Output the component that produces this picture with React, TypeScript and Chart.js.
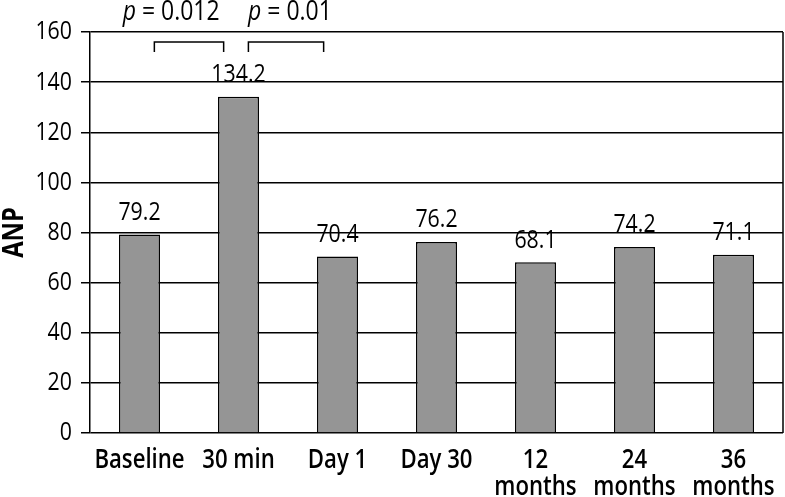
import React, { useEffect, useRef } from "react";
import { Chart, registerables } from "chart.js";

Chart.register(...registerables);

const categories: string[][] = [
  ["Baseline"],
  ["30 min"],
  ["Day 1"],
  ["Day 30"],
  ["12", "months"],
  ["24", "months"],
  ["36", "months"],
];
const anpValues = [79.2, 134.2, 70.4, 76.2, 68.1, 74.2, 71.1];
const valueLabels = ["79.2", "134.2", "70.4", "76.2", "68.1", "74.2", "71.1"];

const yMin = 0;
const yMax = 160;
const yStep = 20;
const yTitle = "ANP";

// significance brackets (category units / value units)
const bracketStart = [0.15, 1.1];
const bracketEnd = [0.85, 1.86];
const bracketTop = [156, 156];
const bracketBottom = [152, 152];
const pValues = ["0.012", "0.01"];
const pLabelX = [0.32, 1.52];
const pLabelY = [168, 168];

const FONT = "'Open Sans', 'Noto Sans', sans-serif";
const SX = 0.82; // horizontal condensing of text

function drawText(
  ctx: CanvasRenderingContext2D,
  text: string,
  x: number,
  y: number,
  font: string,
  align: CanvasTextAlign,
  rotate = 0
) {
  ctx.save();
  ctx.translate(x, y);
  if (rotate) ctx.rotate(rotate);
  ctx.scale(SX, 1);
  ctx.font = font;
  ctx.textAlign = align;
  ctx.textBaseline = "middle";
  ctx.fillStyle = "#000";
  ctx.fillText(text, 0, 0);
  ctx.restore();
}

const annotatePlugin = {
  id: "annotate",
  afterDraw(chart: any) {
    const ctx: CanvasRenderingContext2D = chart.ctx;
    const x = chart.scales.x;
    const y = chart.scales.y;
    const area = chart.chartArea;
    ctx.save();
    // right border
    ctx.strokeStyle = "#000";
    ctx.lineWidth = 1.5;
    ctx.beginPath();
    ctx.moveTo(area.right, area.top);
    ctx.lineTo(area.right, area.bottom);
    ctx.stroke();

    // y tick labels
    y.ticks.forEach((t: any) => {
      drawText(ctx, String(t.value), y.right - 18, y.getPixelForValue(t.value), `26px ${FONT}`, "right");
    });

    // y title
    drawText(ctx, yTitle, 15, (area.top + area.bottom) / 2, `bold 29px ${FONT}`, "center", -Math.PI / 2);

    // x tick labels
    categories.forEach((lines, i) => {
      const px = x.getPixelForTick(i);
      lines.forEach((line, j) => {
        drawText(ctx, line, px, area.bottom + 27 + j * 27, `600 27px ${FONT}`, "center");
      });
    });

    // value labels
    const meta = chart.getDatasetMeta(0);
    meta.data.forEach((bar: any, i: number) => {
      drawText(ctx, valueLabels[i], bar.x, bar.y - 22, `26px ${FONT}`, "center");
    });

    // brackets
    ctx.lineWidth = 1.5;
    ctx.strokeStyle = "#000";
    for (let i = 0; i < bracketStart.length; i++) {
      const x0 = x.getPixelForValue(bracketStart[i]);
      const x1 = x.getPixelForValue(bracketEnd[i]);
      const yt = y.getPixelForValue(bracketTop[i]);
      const yb = y.getPixelForValue(bracketBottom[i]);
      ctx.beginPath();
      ctx.moveTo(x0, yb);
      ctx.lineTo(x0, yt);
      ctx.lineTo(x1, yt);
      ctx.lineTo(x1, yb);
      ctx.stroke();
    }

    // p labels
    for (let i = 0; i < pValues.length; i++) {
      const cx = x.getPixelForValue(pLabelX[i]);
      const cy = y.getPixelForValue(pLabelY[i]);
      const italic = `italic 28px ${FONT}`;
      const normal = `28px ${FONT}`;
      ctx.font = italic;
      const wp = ctx.measureText("p").width * SX;
      ctx.font = normal;
      const rest = " = " + pValues[i];
      const wr = ctx.measureText(rest).width * SX;
      const start = cx - (wp + wr) / 2;
      drawText(ctx, "p", start, cy, italic, "left");
      drawText(ctx, rest, start + wp, cy, normal, "left");
    }
    ctx.restore();
  },
};

export default function App() {
  const ref = useRef<HTMLCanvasElement | null>(null);
  useEffect(() => {
    if (!ref.current) return;
    Chart.defaults.font.family = FONT;
    Chart.defaults.color = "#000";
    const chart = new Chart(ref.current, {
      type: "bar",
      data: {
        labels: categories,
        datasets: [
          {
            data: anpValues,
            backgroundColor: "#959595",
            borderColor: "#000",
            borderWidth: 1.5,
            categoryPercentage: 1,
            barPercentage: 0.414,
          },
        ],
      },
      options: {
        animation: false,
        responsive: true,
        maintainAspectRatio: false,
        layout: { padding: { top: 32, right: 2, left: 0, bottom: 0 } },
        plugins: { legend: { display: false }, tooltip: { enabled: false } },
        scales: {
          x: {
            offset: true,
            grid: { display: false, drawTicks: false },
            border: { display: false },
            ticks: { display: false, autoSkip: false, maxRotation: 0 },
            afterFit: (s: any) => {
              s.height = 64;
            },
          },
          y: {
            min: yMin,
            max: yMax,
            ticks: { stepSize: yStep, display: false },
            grid: { color: "#000", lineWidth: 1.5, tickLength: 9, drawTicks: true },
            border: { display: true, color: "#000", width: 1.5 },
            afterFit: (s: any) => {
              s.width = 90;
            },
          },
        },
      },
      plugins: [annotatePlugin],
    });
    return () => chart.destroy();
  }, []);
  return (
    <div style={{ position: "fixed", left: 0, top: 0, width: 785, height: 497 }}>
      <canvas ref={ref} />
    </div>
  );
}
